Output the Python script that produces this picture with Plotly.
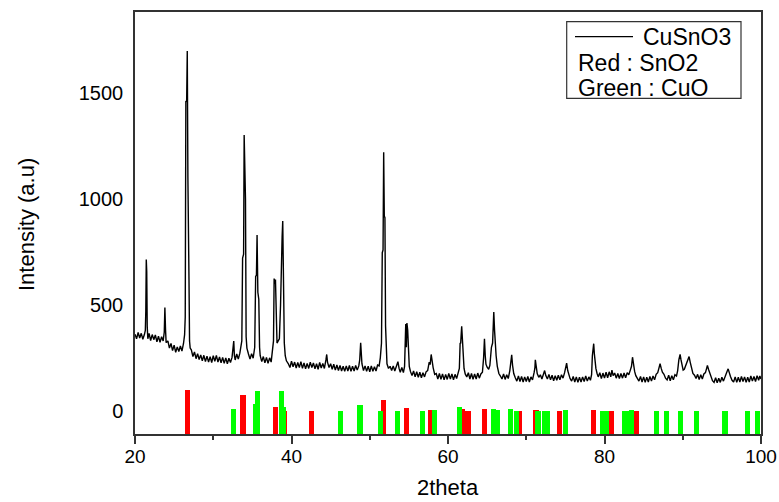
import plotly.graph_objects as go

# ---- XRD pattern of CuSnO3 (2theta, intensity) ----
seg_20_27 = [(20.0, 362), (20.2, 340), (20.4, 370), (20.6, 344), (20.8, 366), (21.0, 338), (21.2, 360), (21.32, 380),
             (21.38, 470), (21.44, 715), (21.5, 657), (21.56, 400), (21.64, 340),
             (21.8, 366), (22.0, 332), (22.2, 360), (22.4, 336), (22.6, 358), (22.8, 326), (23.0, 352), (23.2, 324),
             (23.4, 350), (23.6, 330), (23.74, 372), (23.82, 488), (23.9, 385), (23.98, 322),
             (24.2, 330), (24.4, 296), (24.6, 318), (24.8, 284), (25.0, 310), (25.2, 276), (25.4, 302), (25.6, 280),
             (25.8, 306), (26.0, 282), (26.2, 318), (26.34, 360), (26.42, 443), (26.5, 1464), (26.6, 1460),
             (26.68, 1701), (26.76, 1100), (26.82, 641), (26.9, 620), (26.97, 330), (27.05, 296)]
seg_27_40 = [(27.2, 288), (27.4, 256), (27.6, 278), (27.8, 246), (28.0, 270), (28.2, 242), (28.4, 264), (28.6, 236),
             (28.8, 262), (29.0, 232), (29.2, 258), (29.4, 230), (29.6, 256), (29.8, 228), (30.0, 260), (30.2, 234),
             (30.4, 262), (30.6, 230), (30.8, 254), (31.0, 226), (31.2, 252), (31.4, 224), (31.6, 250), (31.8, 222),
             (32.0, 248), (32.2, 228), (32.4, 252), (32.54, 290), (32.62, 329), (32.7, 262), (32.8, 240),
             (33.0, 268), (33.2, 244), (33.4, 272), (33.55, 300), (33.65, 330), (33.75, 722), (33.88, 740),
             (33.95, 1303), (34.05, 1000), (34.12, 1000), (34.2, 350), (34.3, 296),
             (34.5, 268), (34.7, 244), (34.9, 270), (35.1, 248), (35.3, 300), (35.42, 636), (35.52, 640),
             (35.6, 831), (35.7, 560), (35.82, 527), (35.92, 300), (36.0, 260),
             (36.2, 232), (36.4, 256), (36.6, 226), (36.8, 252), (37.0, 224), (37.2, 250), (37.4, 230),
             (37.55, 270), (37.7, 330), (37.78, 625), (37.88, 600), (37.95, 620), (38.05, 380), (38.15, 320),
             (38.3, 330), (38.45, 340), (38.6, 500), (38.72, 815), (38.8, 820), (38.88, 897), (38.98, 460),
             (39.08, 320), (39.2, 260), (39.35, 236)]
seg_40_55 = [(39.6, 222), (39.8, 204), (40.0, 234), (40.2, 208), (40.4, 230), (40.6, 202), (40.8, 228), (41.0, 204),
             (41.2, 232), (41.4, 200), (41.6, 226), (41.8, 198), (42.0, 224), (42.2, 200), (42.4, 230), (42.6, 204),
             (42.8, 226), (43.0, 198), (43.2, 222), (43.4, 196), (43.6, 228), (43.8, 202), (44.0, 224), (44.2, 200),
             (44.4, 240), (44.5, 266), (44.6, 230), (44.8, 204), (45.0, 222), (45.2, 196), (45.4, 220), (45.6, 192),
             (45.8, 216), (46.0, 190), (46.2, 214), (46.4, 188), (46.6, 210), (46.8, 186), (47.0, 212), (47.2, 188),
             (47.4, 214), (47.6, 186), (47.8, 210), (48.0, 188), (48.2, 214), (48.4, 192), (48.6, 212),
             (48.72, 240), (48.84, 321), (48.92, 270), (49.0, 222), (49.2, 190),
             (49.4, 212), (49.6, 186), (49.8, 210), (50.0, 184), (50.2, 212), (50.4, 186), (50.6, 208), (50.8, 188),
             (51.0, 216), (51.2, 212), (51.35, 250), (51.5, 320), (51.6, 747), (51.7, 760), (51.78, 1222),
             (51.86, 920), (51.94, 913), (52.02, 400), (52.1, 280), (52.2, 222), (52.4, 200),
             (52.6, 210), (52.8, 190), (53.0, 212), (53.2, 188), (53.4, 206), (53.6, 232), (53.75, 200),
             (53.9, 182), (54.1, 204), (54.3, 180), (54.45, 210), (54.6, 410), (54.68, 300), (54.75, 415),
             (54.85, 380), (54.95, 270), (55.05, 210), (55.2, 186)]
seg_55_72 = [(55.4, 166), (55.6, 188), (55.8, 160), (56.0, 184), (56.2, 158), (56.4, 182), (56.6, 156), (56.8, 180),
             (57.0, 160), (57.2, 184), (57.4, 190), (57.6, 230), (57.72, 218), (57.85, 266), (57.95, 230),
             (58.1, 204), (58.3, 172),
             (58.5, 176), (58.7, 150), (58.9, 176), (59.1, 148), (59.3, 174), (59.5, 146), (59.7, 172), (59.9, 148),
             (60.1, 176), (60.3, 150), (60.5, 174), (60.7, 146), (60.9, 172), (61.1, 152), (61.3, 178),
             (61.45, 200), (61.55, 318), (61.62, 320), (61.75, 399), (61.85, 318), (61.95, 250), (62.05, 200),
             (62.2, 174), (62.4, 160), (62.6, 180), (62.8, 150), (63.0, 176), (63.2, 148), (63.4, 174), (63.6, 150),
             (63.8, 178), (64.0, 154), (64.2, 174), (64.4, 182), (64.55, 250), (64.66, 340), (64.76, 260),
             (64.85, 220), (65.0, 206), (65.2, 196), (65.35, 214), (65.55, 300), (65.7, 320), (65.85, 467),
             (65.95, 380), (66.05, 309), (66.15, 260), (66.3, 210), (66.5, 176),
             (66.7, 164), (66.9, 150), (67.1, 174), (67.3, 148), (67.5, 170), (67.7, 152), (67.9, 190),
             (68.0, 220), (68.14, 264), (68.25, 215), (68.4, 176), (68.6, 156),
             (68.8, 140), (69.0, 164), (69.2, 138), (69.4, 162), (69.6, 136), (69.8, 160), (70.0, 138),
             (70.2, 162), (70.4, 136), (70.6, 160), (70.8, 146), (71.0, 180), (71.1, 200), (71.16, 241),
             (71.25, 205), (71.4, 176), (71.6, 158)]
seg_72_86 = [(71.8, 170), (72.0, 150), (72.2, 178), (72.35, 190), (72.5, 166), (72.7, 150), (72.9, 172), (73.1, 146),
             (73.3, 168), (73.5, 142), (73.7, 166), (73.9, 144), (74.1, 168), (74.3, 146), (74.5, 170), (74.7, 154),
             (74.9, 180), (75.05, 200), (75.16, 225), (75.3, 190), (75.45, 166), (75.6, 152),
             (75.8, 140), (76.0, 162), (76.2, 136), (76.4, 160), (76.6, 134), (76.8, 158), (77.0, 136),
             (77.2, 160), (77.4, 138), (77.6, 164), (77.8, 140), (78.0, 160), (78.2, 144), (78.35, 170),
             (78.45, 260), (78.55, 300), (78.62, 317), (78.7, 270), (78.8, 230), (78.9, 200), (79.05, 176),
             (79.2, 160), (79.4, 180), (79.6, 152), (79.8, 178), (80.0, 154), (80.2, 182), (80.4, 156),
             (80.6, 184), (80.8, 160), (80.95, 192), (81.1, 166), (81.3, 178), (81.5, 154), (81.7, 176),
             (81.9, 152), (82.1, 176), (82.3, 154), (82.5, 178), (82.7, 156), (82.9, 180), (83.1, 170),
             (83.3, 192), (83.45, 210), (83.58, 253), (83.7, 215), (83.85, 186), (84.0, 166),
             (84.2, 152), (84.4, 140), (84.6, 162), (84.8, 136), (85.0, 160), (85.2, 134), (85.4, 158),
             (85.6, 136), (85.8, 162)]
seg_86_100 = [(86.0, 140), (86.2, 164), (86.4, 146), (86.6, 172), (86.8, 180), (86.95, 200), (87.1, 222),
              (87.25, 200), (87.4, 182), (87.6, 172), (87.8, 154),
              (88.0, 146), (88.2, 168), (88.4, 142), (88.6, 166), (88.8, 146), (89.0, 170), (89.2, 164),
              (89.35, 190), (89.5, 240), (89.66, 266), (89.78, 240), (89.9, 220), (90.05, 192), (90.2, 196),
              (90.35, 210), (90.5, 230), (90.65, 240), (90.81, 256), (90.95, 230), (91.1, 205), (91.3, 176),
              (91.5, 168), (91.7, 152), (91.9, 172), (92.1, 148), (92.3, 170), (92.5, 150), (92.7, 174),
              (92.9, 180), (93.05, 200), (93.15, 214), (93.3, 195), (93.45, 176), (93.6, 164), (93.8, 142),
              (94.0, 134), (94.2, 156), (94.4, 132), (94.6, 154), (94.8, 134), (95.0, 158), (95.2, 140),
              (95.4, 166), (95.6, 180), (95.8, 198), (95.95, 176), (96.1, 162), (96.3, 144),
              (96.5, 136), (96.7, 160), (96.9, 134), (97.1, 158), (97.3, 136), (97.5, 162), (97.7, 138),
              (97.9, 160), (98.1, 134), (98.3, 158), (98.5, 136), (98.7, 164), (98.9, 140), (99.1, 162),
              (99.3, 138), (99.5, 166), (99.7, 144), (99.85, 164), (100.0, 150)]

# ---- reference stick patterns: position (2theta) and top value ----
sno2_pos = [26.68, 33.8, 37.95, 39.1, 42.55, 51.75, 54.75, 57.75, 61.9, 62.55, 64.7, 69.1, 71.25, 74.2, 78.6, 80.95, 84.1]
sno2_top = [98, 74, 20, 0, -3, 51, 11, 5, 8, -3, 10, -3, 5, -3, 5, 0, 0]
cuo_pos = [32.55, 35.45, 35.6, 38.75, 38.95, 46.25, 48.75, 51.35, 53.5, 56.75, 58.25, 61.5, 65.85, 66.3, 68.0,
           68.8, 71.5, 72.3, 72.75, 75.0, 79.75, 80.25, 82.5, 82.9, 83.45, 86.6, 87.9, 89.75, 91.7, 95.4, 98.3, 99.5]
cuo_top = [8, 33, 95, 95, 20, -3, 25, -3, 1, -3, 5, 16, 10, 5, 10, 0, 0, 0, 0, 5, 0, 0, 0, 0, 5, 0, 0, -3, -3, -3, -2, 0]

x_ticks = [20, 40, 60, 80, 100]
y_ticks = [0, 500, 1000, 1500]
X_RANGE = [20, 100]
Y_RANGE = [-110, 1885]

pattern = seg_20_27 + seg_27_40 + seg_40_55 + seg_55_72 + seg_72_86 + seg_86_100
two_theta = [p[0] for p in pattern]
intensity = [p[1] for p in pattern]

BASE = Y_RANGE[0]
fig = go.Figure()
fig.add_trace(go.Bar(x=sno2_pos, y=[t - BASE for t in sno2_top], base=BASE, width=0.65,
                     marker=dict(color="#ff0000", line=dict(width=0)), name="SnO2", showlegend=False))
fig.add_trace(go.Bar(x=cuo_pos, y=[t - BASE for t in cuo_top], base=BASE, width=0.65,
                     marker=dict(color="#00ff00", line=dict(width=0)), name="CuO", showlegend=False))
fig.add_trace(go.Scatter(x=two_theta, y=intensity, mode="lines", line=dict(color="black", width=1.4),
                         name="CuSnO3", showlegend=False))

W, H = 779, 502
L, R, T, B = 135, 18, 12, 68
PW, PH = W - L - R, H - T - B

def px(xpage):
    return (xpage - L) / PW

def py(ypage):
    return (H - B - ypage) / PH

axis_font = dict(family="Liberation Sans, Arial, sans-serif", size=19, color="black")
yaxis_font = dict(family="Liberation Sans, Arial, sans-serif", size=20, color="black")
fig.update_layout(
    width=W, height=H, margin=dict(l=L, r=R, t=T, b=B, autoexpand=False),
    paper_bgcolor="white", plot_bgcolor="white", barmode="overlay", bargap=0,
    xaxis=dict(range=X_RANGE, tickvals=x_ticks, ticks="outside", ticklen=8, tickwidth=1.5, tickcolor="#333",
               minor=dict(dtick=10, tick0=0, ticks="outside", ticklen=4, tickwidth=1.5, tickcolor="#333"),
               showline=True, linecolor="#333", linewidth=1.5, mirror=True, showgrid=False, zeroline=False,
               tickfont=axis_font, ticklabelstandoff=-4),
    yaxis=dict(range=Y_RANGE, tickvals=y_ticks, ticks="", showline=True, linecolor="#333", linewidth=1.5,
               mirror=True, showgrid=False, zeroline=False, tickfont=yaxis_font, ticklabelstandoff=6),
    font=dict(family="Liberation Sans, Arial, sans-serif", color="black"),
)

leg_font = dict(family="Liberation Sans, Arial, sans-serif", size=23, color="black")
fig.add_shape(type="rect", xref="paper", yref="paper", x0=px(566.7), x1=px(741), y0=py(98.3), y1=py(21.7),
              line=dict(color="#333", width=1.2), fillcolor="white", layer="above")
fig.add_shape(type="line", xref="paper", yref="paper", x0=px(575), x1=px(633), y0=py(36.7), y1=py(36.7),
              line=dict(color="black", width=1.2))
fig.add_annotation(text="CuSnO3", xref="paper", yref="paper", x=px(733), y=py(36.7), xanchor="right",
                   yanchor="middle", showarrow=False, font=leg_font)
fig.add_annotation(text="Red : SnO2", xref="paper", yref="paper", x=px(576), y=py(62.5), xanchor="left",
                   yanchor="middle", showarrow=False, font=leg_font)
fig.add_annotation(text="Green : CuO", xref="paper", yref="paper", x=px(576), y=py(87.5), xanchor="left",
                   yanchor="middle", showarrow=False, font=leg_font)

title_font = dict(family="Liberation Sans, Arial, sans-serif", size=22, color="black")
fig.add_annotation(text="2theta", xref="paper", yref="paper", x=0.5, y=py(488), xanchor="center",
                   yanchor="middle", showarrow=False, font=title_font)
fig.add_annotation(text="Intensity (a.u)", xref="paper", yref="paper", x=px(27), y=py(225), textangle=-90,
                   xanchor="center", yanchor="middle", showarrow=False, font=title_font)

fig.write_html("out.html", config={"displayModeBar": False},
               post_script="document.body.style.margin='0px'; document.body.style.overflow='hidden';")
